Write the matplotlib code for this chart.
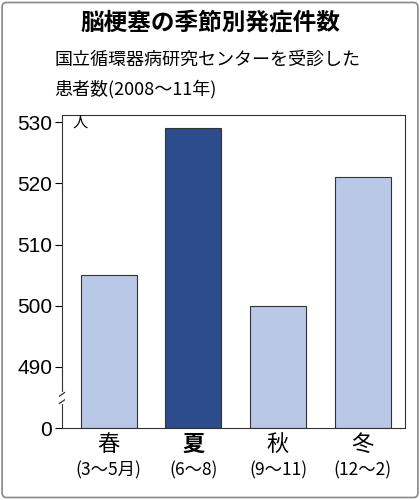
import matplotlib
matplotlib.use("Agg")
import matplotlib.pyplot as plt
from matplotlib.patches import FancyBboxPatch

plt.rcParams['font.family'] = ['Noto Sans CJK JP', 'DejaVu Sans']

seasons = ['春', '夏', '秋', '冬']
months = ['(3〜5月)', '(6〜8)', '(9〜11)', '(12〜2)']
values = [505, 529, 500, 521]
colors = ['#b9c8e6', '#2c4c8c', '#b9c8e6', '#b9c8e6']
yticks = [480, 490, 500, 510, 520, 530]
ytick_labels = ['0', '490', '500', '510', '520', '530']

fig = plt.figure(figsize=(4.2, 5.0), dpi=100)
fig.patches.append(FancyBboxPatch((0.005, 0.005), 0.99, 0.99, boxstyle="round,pad=0,rounding_size=0.01",
                                  transform=fig.transFigure, fill=False, edgecolor='#888888', lw=1.2))
fig.text(0.5, 1-22/500, '脳梗塞の季節別発症件数', ha='center', va='center', fontsize=17, fontweight='bold')
fig.text(0.13, 1-60/500, '国立循環器病研究センターを受診した', ha='left', va='center', fontsize=13)
fig.text(0.13, 1-89/500, '患者数(2008〜11年)', ha='left', va='center', fontsize=13)

ax = fig.add_axes([62/420, 1-428/500, (405-62)/420, (428-115)/500])
x = range(len(values))
ax.bar(x, [v - 480 for v in values], bottom=480, width=0.66, color=colors, edgecolor='#333333', lw=0.8)
ax.set_xlim(-0.55, 3.5)
ax.set_ylim(480, 531.2)
ax.set_yticks(yticks)
ax.set_yticklabels(ytick_labels, fontsize=15, family='Liberation Sans')
ax.tick_params(axis='y', direction='out', length=5, pad=2)
ax.set_xticks(list(x))
ax.set_xticklabels(['' for _ in seasons])
ax.tick_params(axis='x', length=0)
for i, (s, m) in enumerate(zip(seasons, months)):
    ax.text(i, 479.2, s, ha='center', va='top', fontsize=16, fontweight='bold' if i == 1 else 'normal')
    ax.text(i, 474.6, m, ha='center', va='top', fontsize=12.5)
for sp in ax.spines.values():
    sp.set_color('#333333')
ax.text(-0.42, 530, '人', ha='left', va='center', fontsize=11)
# break marks
ax.plot([-0.55, -0.55], [484.2, 485.6], color='white', lw=3, clip_on=False, zorder=5)
ax.plot([-0.58, -0.52], [484.0, 484.6], color='#333333', lw=0.9, clip_on=False, zorder=6)
ax.plot([-0.58, -0.52], [485.2, 485.8], color='#333333', lw=0.9, clip_on=False, zorder=6)
fig.savefig('out.png', dpi=100)
